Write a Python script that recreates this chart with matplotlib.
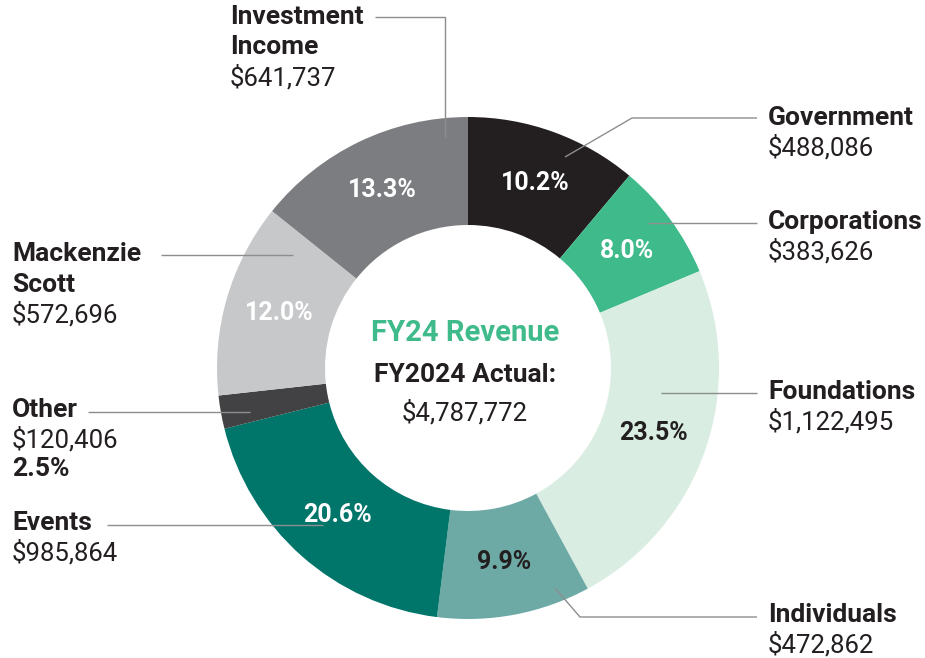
import numpy as np
import matplotlib
matplotlib.use('Agg')
import matplotlib.pyplot as plt

# revenue by source, clockwise from 12 o'clock
sources = ['Government', 'Corporations', 'Foundations', 'Individuals',
           'Events', 'Other', 'Mackenzie\nScott', 'Investment\nIncome']
amounts = [488086, 383626, 1122495, 472862, 985864, 120406, 572696, 641737]
pct_labels = ['10.2%', '8.0%', '23.5%', '9.9%', '20.6%', '2.5%', '12.0%', '13.3%']
# share of the ring each slice takes in the picture (degrees)
ring_deg = [40.0, 27.3, 84.2, 35.6, 68.9, 7.7, 45.0, 51.3]
colors = ['#231f20', '#3fbb8b', '#d9ede2', '#6eaaa5', '#00756a', '#424143', '#c7c8ca', '#7c7d80']
pct_colors = ['white', 'white', '#231f20', '#231f20', 'white', None, 'white', 'white']

total_label = '$4,787,772'

# label text anchor (left x, y of first line) and leader line points, in pixels
label_pos = [(768, 118), (768, 222), (768, 392), (768, 615),
             (12, 523), (12, 410), (12, 254), (230, 17)]
leaders = [
    [(757, 118), (632, 118), (565, 157)],
    [(757, 223), (648, 223)],
    [(757, 393), (661, 393)],
    [(757, 617), (580, 617), (555, 588)],
    [(107, 525), (323, 525)],
    [(88, 412), (250, 412)],
    [(161, 255), (293, 255)],
    [(375, 17), (445, 17), (445, 137)],
]

W, H = 925, 658
cx, cy = 468, 368
r_out, r_in = 251, 143

plt.rcParams['font.family'] = ['Roboto', 'DejaVu Sans']
dark = '#231f20'

fig = plt.figure(figsize=(W / 100, H / 100), dpi=100)
ax = fig.add_axes([0, 0, 1, 1])

ax.pie(ring_deg, colors=colors, center=(cx, cy), radius=r_out,
       startangle=-90, counterclock=True,
       wedgeprops=dict(width=r_out - r_in, edgecolor='none'))
ax.set_xlim(0, W)
ax.set_ylim(H, 0)
ax.set_aspect('equal')
ax.axis('off')

# percentages inside the ring
fracs = np.array(ring_deg) / sum(ring_deg)
starts = np.concatenate([[0], np.cumsum(fracs)[:-1]])
r_mid = (r_out + r_in) / 2
for f, s, txt, c in zip(fracs, starts, pct_labels, pct_colors):
    if c is None:
        continue
    th = np.deg2rad(-90 + 360 * (s + f / 2))
    ax.text(cx + r_mid * np.cos(th), cy + r_mid * np.sin(th), txt,
            ha='center', va='center', fontsize=18, fontweight='bold', color=c)

# leader lines
for pts in leaders:
    xs, ys = zip(*pts)
    ax.plot(xs, ys, color='#8c8e90', lw=1.0, solid_capstyle='butt')

# outside labels
line_h = 29.5
for name, amt, (x, y), pct, c in zip(sources, amounts, label_pos, pct_labels, pct_colors):
    lines = name.split('\n')
    lh = 30.5 if len(lines) > 1 else line_h
    for i, ln in enumerate(lines):
        ax.text(x, y + i * lh, ln, ha='left', va='center',
                fontsize=19, fontweight='bold', color=dark)
    yy = y + len(lines) * lh
    ax.text(x, yy, '${:,}'.format(amt), ha='left', va='center',
            fontsize=18.5, fontweight='normal', color=dark)
    if c is None:
        ax.text(x, yy + line_h, pct, ha='left', va='center',
                fontsize=19, fontweight='bold', color=dark)

# centre text
ax.text(cx - 3, 333, 'FY24 Revenue', ha='center', va='center', fontsize=21,
        fontweight='bold', color='#3fbb8b')
ax.text(cx - 3, 375, 'FY2024 Actual:', ha='center', va='center',
        fontsize=19, fontweight='bold', color=dark)
ax.text(cx - 3, 413, total_label, ha='center', va='center',
        fontsize=18.5, fontweight='normal', color=dark)

fig.savefig('out.png', dpi=100)
